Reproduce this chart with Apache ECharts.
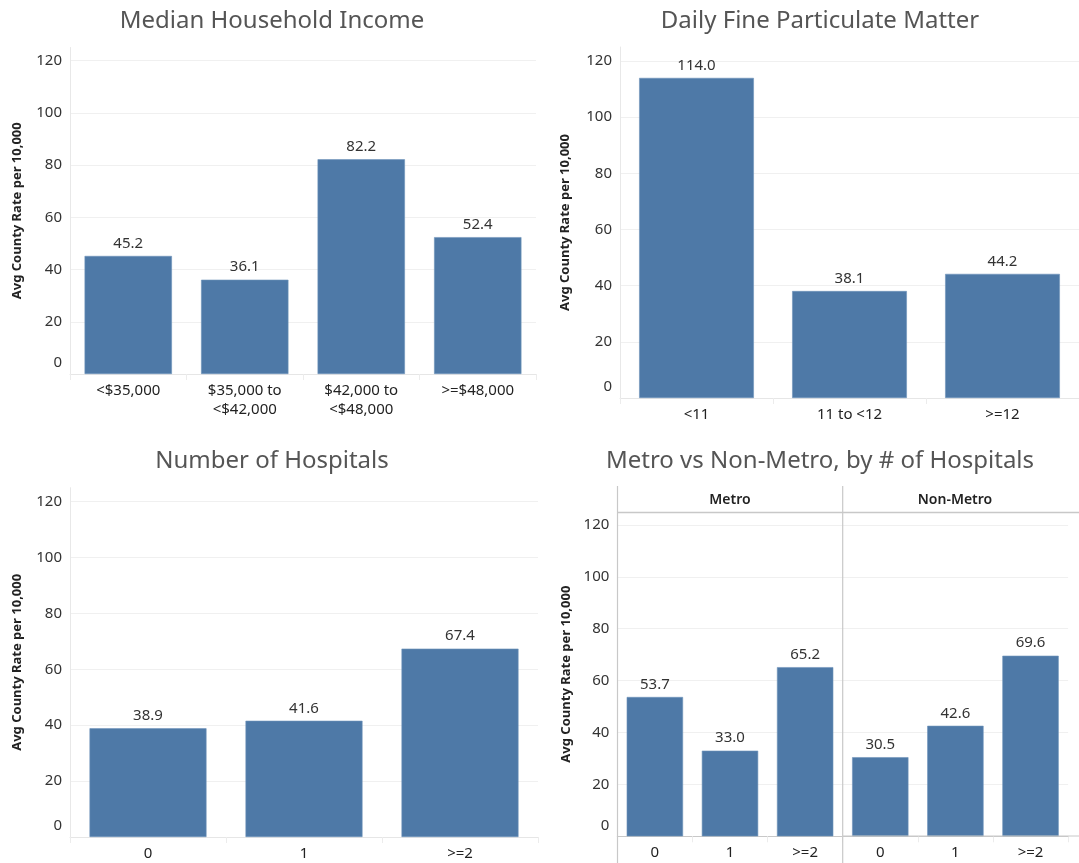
<!DOCTYPE html>
<html>
<head>
<meta charset="utf-8">
<script src="https://cdn.jsdelivr.net/npm/echarts@6/dist/echarts.min.js"></script>
<style>
html,body{margin:0;padding:0;background:#fff;}
#c{width:1079px;height:863px;}
</style>
</head>
<body>
<div id="c"></div>
<script>
// ---- data ----
var incomeCats = ['<$35,000', '$35,000 to\n<$42,000', '$42,000 to\n<$48,000', '>=$48,000'];
var incomeVals = [45.2, 36.1, 82.2, 52.4];
var pmCats = ['<11', '11 to <12', '>=12'];
var pmVals = [114.0, 38.1, 44.2];
var hospCats = ['0', '1', '>=2'];
var hospVals = [38.9, 41.6, 67.4];
var metroCats = ['0', '1', '>=2'];
var metroVals = [53.7, 33.0, 65.2];
var nonMetroCats = ['0', '1', '>=2'];
var nonMetroVals = [30.5, 42.6, 69.6];
var panelTitles = ['Median Household Income', 'Daily Fine Particulate Matter', 'Number of Hospitals', 'Metro vs Non-Metro, by # of Hospitals'];
var facetLabels = ['Metro', 'Non-Metro'];
var yAxisName = 'Avg County Rate per 10,000';
var yMin = 0, yMax = 125, yStep = 20;

// ---- styles ----
var FONT = 'Noto Sans';
var BAR = '#4e79a7';
var TXT = '#333333';

var chart = echarts.init(document.getElementById('c'), null, {renderer: 'canvas'});

function yAxis(gridIndex, showLabels, nameGap) {
  return {
    type: 'value', gridIndex: gridIndex, min: yMin, max: yMax, interval: yStep,
    name: showLabels ? yAxisName : '', nameLocation: 'middle', nameGap: nameGap,
    nameTextStyle: {fontFamily: FONT, fontSize: 13, fontWeight: 'bold', color: '#222'},
    axisLine: {show: showLabels, lineStyle: {color: gridIndex >= 3 ? '#c8c8c8' : '#e8e8e8'}},
    axisTick: {show: false},
    splitLine: {show: true, showMaxLine: false, lineStyle: {color: '#f0f0f0', width: 1}},
    axisLabel: {
      show: showLabels, fontFamily: FONT, fontSize: 15, color: TXT, margin: 8,
      showMaxLabel: false,
      formatter: function (v) { return v === 0 ? '{z|0}' : String(v); },
      rich: {z: {fontFamily: FONT, fontSize: 15, color: TXT, padding: [0, 0, 22, 0]}}
    }
  };
}
function xAxis(gridIndex, cats, lineColor) {
  return {
    type: 'category', gridIndex: gridIndex, data: cats,
    axisLine: {show: true, lineStyle: {color: lineColor || '#e6e6e6'}},
    axisTick: {show: true, length: 6, lineStyle: {color: '#ececec'}},
    axisLabel: {fontFamily: FONT, fontSize: 15, color: '#222', margin: 7, lineHeight: 19, interval: 0}
  };
}
function bars(idx, vals) {
  return {
    type: 'bar', xAxisIndex: idx, yAxisIndex: idx, data: vals,
    barCategoryGap: '25%',
    itemStyle: {color: BAR, borderColor: '#6f93bb', borderWidth: 0.6},
    label: {show: true, position: 'top', distance: 5, fontFamily: FONT, fontSize: 15, color: TXT,
      formatter: function (p) { return p.value.toFixed(1); }},
    silent: true, animation: false
  };
}
function title(text, x, y) {
  return {text: text, left: x, top: y, textAlign: 'center',
    textStyle: {fontFamily: FONT, fontSize: 24, fontWeight: 'normal', color: '#555'}};
}

var option = {
  animation: false,
  backgroundColor: '#ffffff',
  title: [
    title(panelTitles[0], 267, 4),
    title(panelTitles[1], 815, 4),
    title(panelTitles[2], 267, 444),
    title(panelTitles[3], 815, 444)
  ],
  grid: [
    {left: 70, top: 47.5, width: 466, height: 326.5},
    {left: 620, top: 47, width: 465, height: 351},
    {left: 70, top: 487.7, width: 468, height: 350.3},
    {left: 617.3, top: 512, width: 225.4, height: 324.3},
    {left: 842.7, top: 512, width: 225.4, height: 324.3}
  ],
  xAxis: [
    xAxis(0, incomeCats),
    xAxis(1, pmCats),
    xAxis(2, hospCats),
    xAxis(3, metroCats, '#c8c8c8'),
    xAxis(4, nonMetroCats, '#c8c8c8')
  ],
  yAxis: [
    yAxis(0, true, 46),
    yAxis(1, true, 48),
    yAxis(2, true, 46),
    yAxis(3, true, 45),
    yAxis(4, false, 0)
  ],
  series: [
    bars(0, incomeVals),
    bars(1, pmVals),
    bars(2, hospVals),
    bars(3, metroVals),
    bars(4, nonMetroVals)
  ],
  graphic: [
    {type: 'line', silent: true, z: 100, shape: {x1: 617.5, y1: 512.5, x2: 1079, y2: 512.5}, style: {stroke: '#c8c8c8', lineWidth: 1.5}},
    {type: 'line', silent: true, z: 100, shape: {x1: 842.7, y1: 836, x2: 1079, y2: 836}, style: {stroke: '#c8c8c8', lineWidth: 1}},
    {type: 'line', silent: true, z: 100, shape: {x1: 617.5, y1: 486, x2: 617.5, y2: 863}, style: {stroke: '#c8c8c8', lineWidth: 1.2}},
    {type: 'line', silent: true, z: 100, shape: {x1: 842.7, y1: 486, x2: 842.7, y2: 863}, style: {stroke: '#c8c8c8', lineWidth: 1.2}},
    {type: 'text', silent: true, z: 100, x: 730, y: 500.5, style: {text: facetLabels[0], font: '600 14px "Noto Sans"', fill: '#222', textAlign: 'center', textVerticalAlign: 'middle'}},
    {type: 'text', silent: true, z: 100, x: 955, y: 500.5, style: {text: facetLabels[1], font: '600 14px "Noto Sans"', fill: '#222', textAlign: 'center', textVerticalAlign: 'middle'}}
  ]
};
chart.setOption(option);
</script>
</body>
</html>
